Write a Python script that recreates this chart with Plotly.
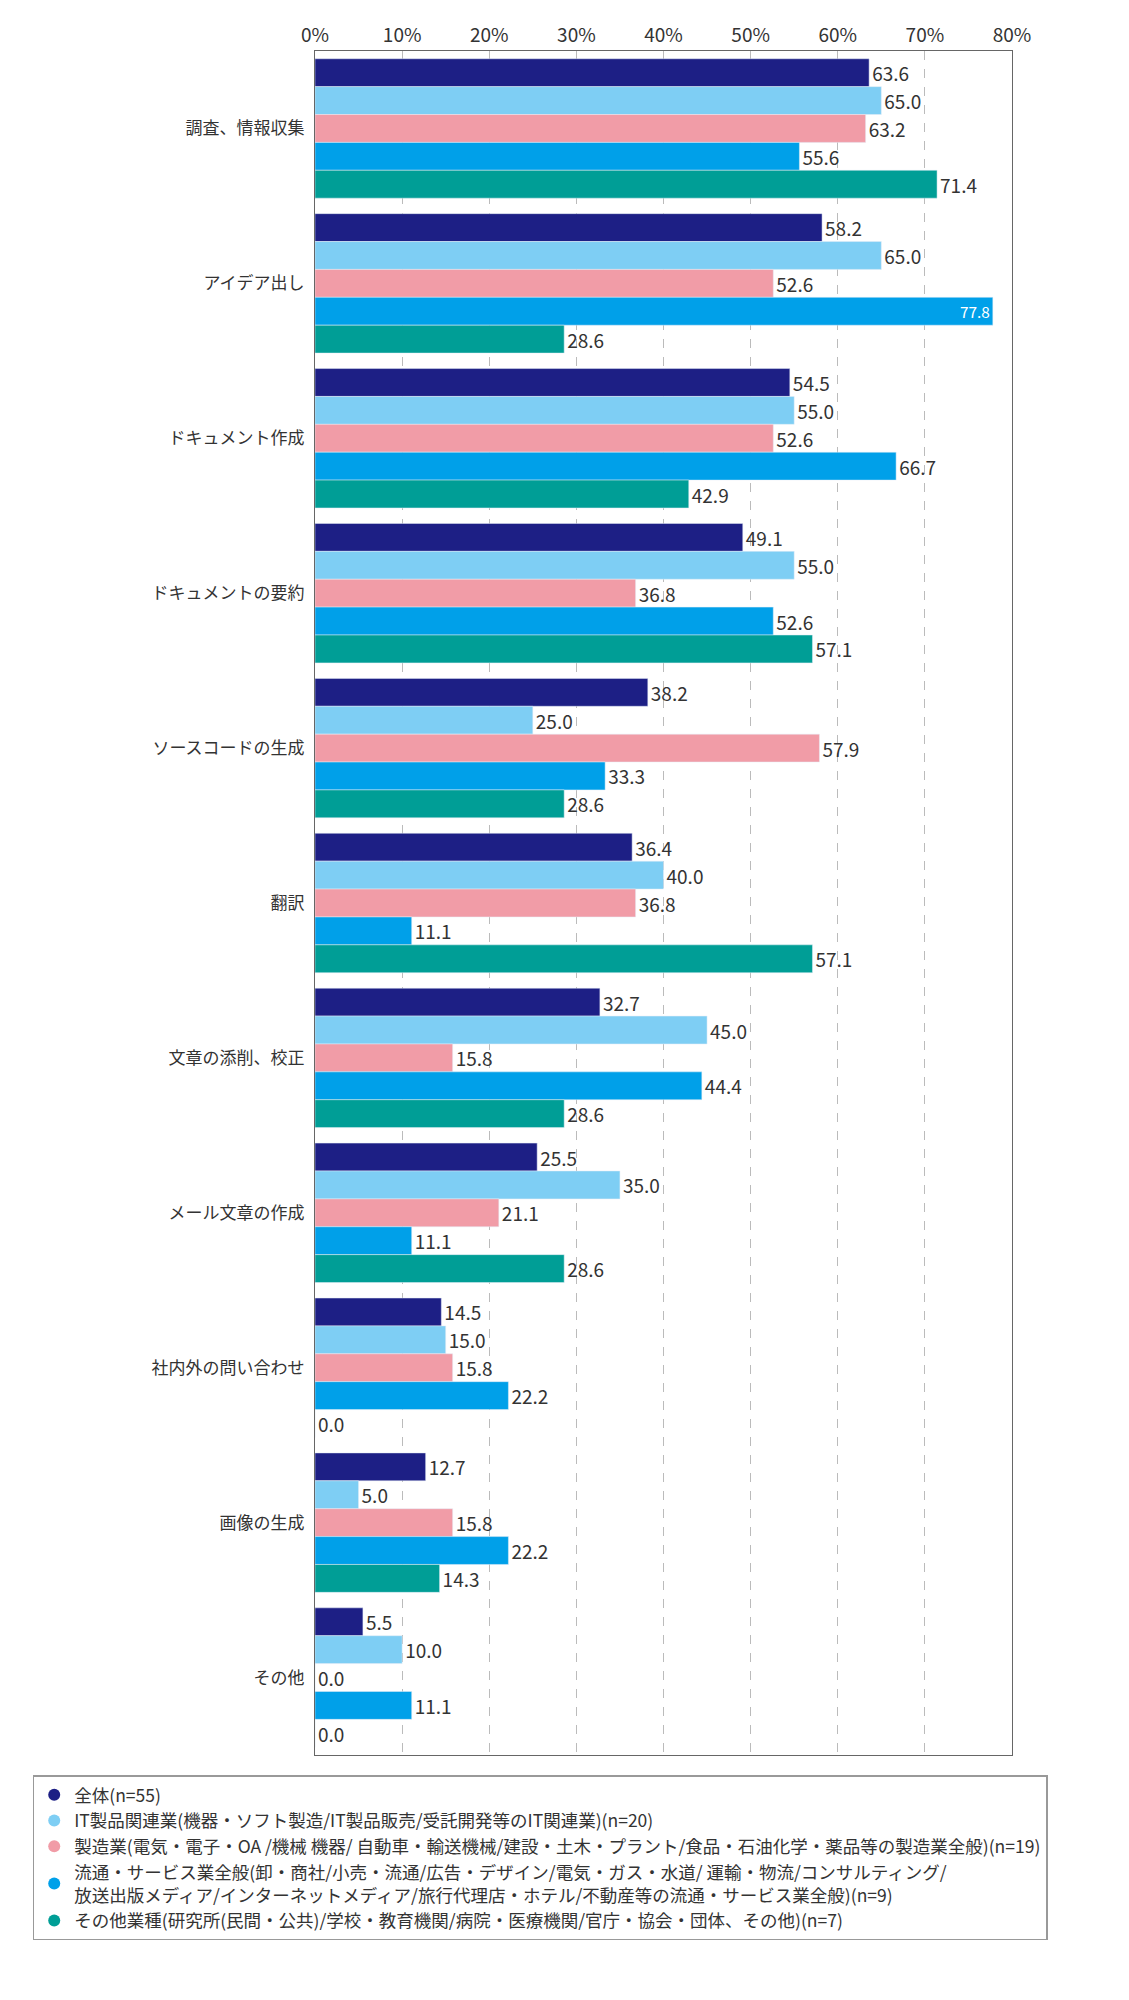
import plotly.graph_objects as go

categories = ["調査、情報収集","アイデア出し","ドキュメント作成","ドキュメントの要約","ソースコードの生成","翻訳","文章の添削、校正","メール文章の作成","社内外の問い合わせ","画像の生成","その他"]
series_names = ["全体(n=55)",
 "IT製品関連業(機器・ソフト製造/IT製品販売/受託開発等のIT関連業)(n=20)",
 "製造業(電気・電子・OA /機械 機器/ 自動車・輸送機械/建設・土木・プラント/食品・石油化学・薬品等の製造業全般)(n=19)",
 "流通・サービス業全般(卸・商社/小売・流通/広告・デザイン/電気・ガス・水道/ 運輸・物流/コンサルティング/<br>放送出版メディア/インターネットメディア/旅行代理店・ホテル/不動産等の流通・サービス業全般)(n=9)",
 "その他業種(研究所(民間・公共)/学校・教育機関/病院・医療機関/官庁・協会・団体、その他)(n=7)"]
all_vals = [63.6,58.2,54.5,49.1,38.2,36.4,32.7,25.5,14.5,12.7,5.5]
it_vals = [65.0,65.0,55.0,55.0,25.0,40.0,45.0,35.0,15.0,5.0,10.0]
mfg_vals = [63.2,52.6,52.6,36.8,57.9,36.8,15.8,21.1,15.8,15.8,0.0]
dist_vals = [55.6,77.8,66.7,52.6,33.3,11.1,44.4,11.1,22.2,22.2,11.1]
other_vals = [71.4,28.6,42.9,57.1,28.6,57.1,28.6,28.6,0.0,14.3,0.0]
colors = ["#1d1f85","#7ecef4","#f19ca7","#00a0e9","#009e96"]

fig = go.Figure()
for name, vals, c in zip(series_names, [all_vals,it_vals,mfg_vals,dist_vals,other_vals], colors):
    pos = ["inside" if v > 75 else "outside" for v in vals]
    tcol = ["white" if v > 75 else "#333" for v in vals]
    fig.add_trace(go.Bar(y=categories, x=vals, orientation="h", marker_color=c, showlegend=False,
                         text=[f"{v:.1f}" for v in vals], textposition=pos, insidetextanchor="end",
                         textfont=dict(size=19, color=tcol), cliponaxis=False))
for name, c in zip(series_names, colors):
    fig.add_trace(go.Scatter(x=[None], y=[None], mode="markers", name=name,
                             marker=dict(symbol="circle", size=15, color=c)))

fig.update_layout(
    width=1129, height=2000, barmode="group", bargap=0.1, bargroupgap=0,
    plot_bgcolor="white", paper_bgcolor="white",
    font=dict(family="Noto Sans CJK JP", color="#333", size=17),
    margin=dict(l=307, r=125, t=43, b=253),
    xaxis=dict(range=[0,80], side="top", dtick=10, ticksuffix="%", showgrid=True,
               gridcolor="#bbb", griddash="dash", zeroline=False, tickfont=dict(size=19),
               showline=True, linecolor="#666", mirror=True, ticks=""),
    yaxis=dict(autorange="reversed", showline=True, linecolor="#666", mirror=True, ticks="outside", ticklen=6, tickcolor="white"),
    legend=dict(x=-0.405, xanchor="left", y=-0.012, yanchor="top", bordercolor="#999", borderwidth=1.5,
                font=dict(size=17.5), itemsizing="constant", tracegroupgap=4,
                entrywidth=1030, entrywidthmode="pixels"),
)
fig.write_html("out.html")
